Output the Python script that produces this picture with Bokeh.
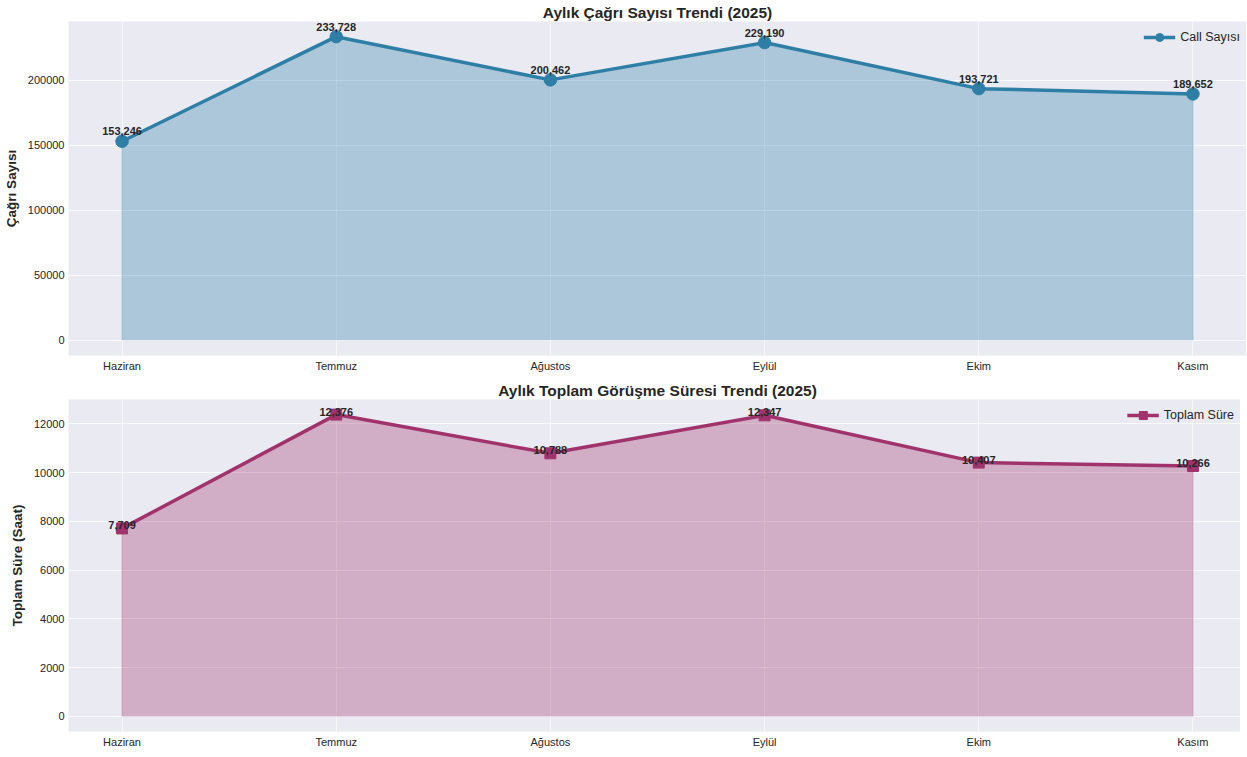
from bokeh.plotting import figure
from bokeh.layouts import column
from bokeh.models import ColumnDataSource, FixedTicker, SingleIntervalTicker, BasicTickFormatter, Legend, LegendItem
from bokeh.core.properties import value
from bokeh.embed import file_html
from bokeh.resources import INLINE

months = ["Haziran", "Temmuz", "Ağustos", "Eylül", "Ekim", "Kasım"]
call_counts = [153246, 233728, 200462, 229190, 193721, 189652]
total_hours = [7709, 12376, 10788, 12347, 10407, 10266]

FONT = "Liberation Sans"
BG = "#EAEAF2"
C1 = "#2E7EA6"
C2 = "#A0336C"


def make_fig(vals, color, marker, title, ylabel, legend_label, ystep, frame_h, label_offset, baseline,
             ylo, yhi, top_border):
    xs = list(range(len(months)))
    src = ColumnDataSource(dict(x=xs, y=vals, zero=[0] * len(vals),
                                lbl=[f"{v:,}" for v in vals]))
    p = figure(frame_width=1178, frame_height=frame_h, output_backend="svg", toolbar_location=None,
               x_range=(-0.25, len(months) - 0.75), y_range=(ylo, yhi),
               min_border_left=60, min_border_right=0, min_border_top=top_border, min_border_bottom=0)
    p.background_fill_color = BG
    p.border_fill_color = "white"
    p.outline_line_color = None

    p.title.text = title
    p.title.text_font = FONT
    p.title.text_font_size = "15.5px"
    p.title.text_font_style = "bold"
    p.title.text_color = "#262626"
    p.title.align = "center"
    p.title.standoff = 2

    p.varea(x="x", y1="zero", y2="y", source=src, fill_color=color, fill_alpha=0.33)
    p.segment(x0=[0], y0=[0], x1=[0], y1=[vals[0]], line_color=color, line_alpha=0.3, line_width=1)
    p.segment(x0=[len(vals) - 1], y0=[0], x1=[len(vals) - 1], y1=[vals[-1]], line_color=color, line_alpha=0.3, line_width=1)
    ln = p.line(x="x", y="y", source=src, line_color=color, line_width=3.5)
    sc = p.scatter(x="x", y="y", source=src, marker=marker, size=12.5 if marker == "circle" else 11,
                   fill_color=color, line_color=color)
    p.text(x="x", y="y", text="lbl", source=src, text_font=value(FONT), text_font_size="11px",
           text_font_style="bold", text_color="#262626", text_align="center", text_baseline=baseline,
           y_offset=-label_offset)

    legend = Legend(items=[LegendItem(label=legend_label, renderers=[ln, sc])], location="top_right",
                    background_fill_alpha=0, border_line_color=None, label_text_font=FONT,
                    label_text_font_size="12.5px", label_text_color="#262626", glyph_width=32,
                    margin=6, padding=4, spacing=0)
    p.add_layout(legend)

    p.xaxis.ticker = FixedTicker(ticks=xs)
    p.xaxis.major_label_overrides = {i: m for i, m in enumerate(months)}
    p.yaxis.ticker = SingleIntervalTicker(interval=ystep)
    p.yaxis.formatter = BasicTickFormatter(use_scientific=False)
    for ax in (p.xaxis, p.yaxis):
        ax.axis_line_color = None
        ax.major_tick_line_color = None
        ax.minor_tick_line_color = None
        ax.major_tick_out = 0
        ax.major_tick_in = 0
        ax.minor_tick_out = 0
        ax.minor_tick_in = 0
        ax.major_label_text_font = FONT
        ax.major_label_text_font_size = "11px"
        ax.major_label_text_color = "#262626"
    p.xaxis.major_label_standoff = 4
    p.yaxis.major_label_standoff = 4
    p.yaxis.axis_label = ylabel
    p.yaxis.axis_label_text_font = FONT
    p.yaxis.axis_label_text_font_size = "13.5px"
    p.yaxis.axis_label_text_font_style = "bold"
    p.yaxis.axis_label_text_color = "#262626"
    p.yaxis.axis_label_standoff = 6
    p.xgrid.grid_line_color = "white"
    p.xgrid.grid_line_alpha = 0.6
    p.ygrid.grid_line_color = "white"
    p.ygrid.grid_line_alpha = 0.8
    return p


p1 = make_fig(call_counts, C1, "circle", "Aylık Çağrı Sayısı Trendi (2025)", "Çağrı Sayısı", "Call Sayısı",
              50000, 334, 6, "bottom", -11686, 245414, 0)
p2 = make_fig(total_hours, C2, "square", "Aylık Toplam Görüşme Süresi Trendi (2025)", "Toplam Süre (Saat)",
              "Toplam Süre", 2000, 332, 3, "middle", -619, 12995, 25)

layout = column(p1, p2, spacing=0)
open("out.html", "w").write(file_html(layout, INLINE))
